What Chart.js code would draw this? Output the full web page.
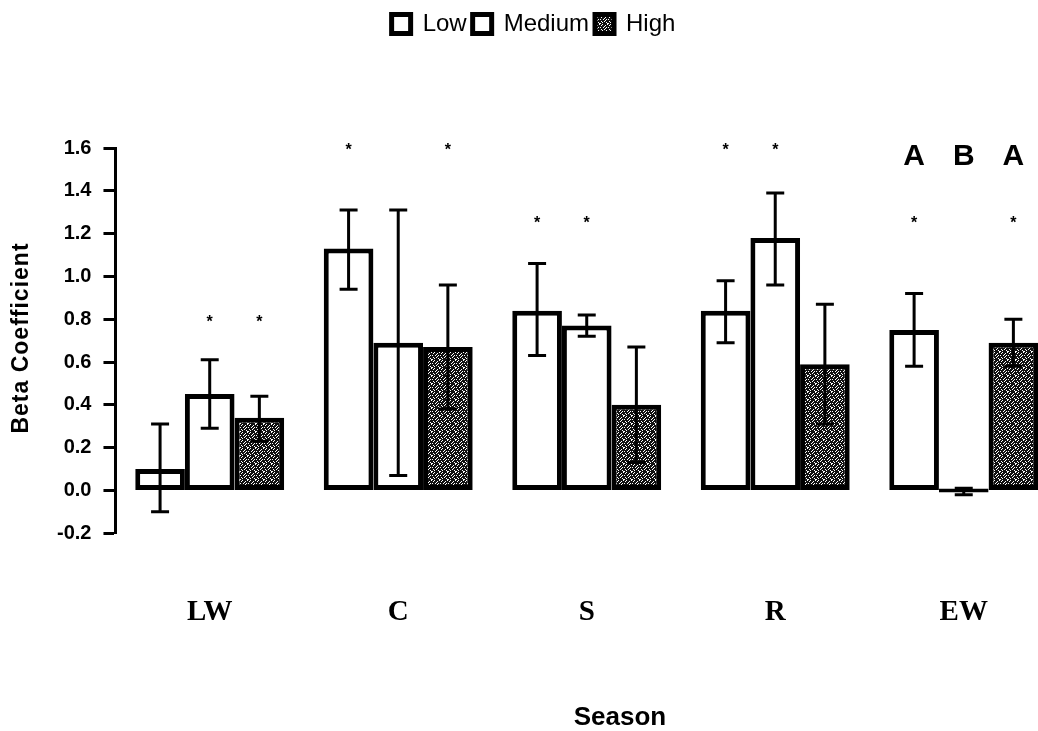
<!DOCTYPE html>
<html>
<head>
<meta charset="utf-8">
<script src="https://cdn.jsdelivr.net/npm/chart.js@4.4.1/dist/chart.umd.min.js"></script>
<style>
  html, body { margin: 0; padding: 0; background: #fff; overflow: hidden; }
  #wrap { width: 1058px; height: 731px; }
</style>
</head>
<body>
<div id="wrap"><canvas id="beta_chart"></canvas></div>
<script>
// data
const seasons = ['LW', 'C', 'S', 'R', 'EW'];
const yTicks = [-0.2, 0.0, 0.2, 0.4, 0.6, 0.8, 1.0, 1.2, 1.4, 1.6];

const lowVals = [0.10, 1.13, 0.84, 0.84, 0.75];
const lowErrLo = [-0.10, 0.94, 0.63, 0.69, 0.58];
const lowErrHi = [0.31, 1.31, 1.06, 0.98, 0.92];

const medVals = [0.45, 0.69, 0.77, 1.18, 0.0];
const medErrLo = [0.29, 0.07, 0.72, 0.96, -0.02];
const medErrHi = [0.61, 1.31, 0.82, 1.39, 0.01];

const highVals = [0.34, 0.67, 0.40, 0.59, 0.69];
const highErrLo = [0.23, 0.38, 0.13, 0.31, 0.58];
const highErrHi = [0.44, 0.96, 0.67, 0.87, 0.80];

// significance stars (y value, or null) per series
const lowStars = [null, 1.6, 1.26, 1.6, 1.26];
const medStars = [0.8, null, 1.26, 1.6, null];
const highStars = [0.8, 1.6, null, null, 1.26];

// letters above EW
const letterSeason = 'EW';
const letters = ['A', 'B', 'A'];
const letterY = 1.56;

// speckled fill for the High bars
function speckle(){
    const rows = [
        '11011110',
        '10111011',
        '11110111',
        '01101101',
        '11111011',
        '10110111',
        '11011101',
        '01111110'
    ];
    const c = document.createElement('canvas');
    c.width = 8; c.height = 8;
    const g = c.getContext('2d');
    g.fillStyle = '#fff';
    g.fillRect(0, 0, 8, 8);
    g.fillStyle = '#111';
    for(let y=0;y<8;y++){
        for(let x=0;x<8;x++){
            if(rows[y][x] == '1') g.fillRect(x, y, 1, 1);
        }
    }
    return g.createPattern(c, 'repeat');
}

const errLo = [lowErrLo, medErrLo, highErrLo];
const errHi = [lowErrHi, medErrHi, highErrHi];
const stars = [lowStars, medStars, highStars];

const errorBars = {
    id: 'errorBars',
    afterDatasetsDraw(chart){
        const ctx = chart.ctx;
        const y = chart.scales.y;
        ctx.save();
        ctx.strokeStyle = '#000';
        ctx.lineWidth = 3;
        chart.data.datasets.forEach((ds, di) => {
            const meta = chart.getDatasetMeta(di);
            meta.data.forEach((bar, i) => {
                const x = bar.x;
                const top = y.getPixelForValue(errHi[di][i]);
                const bot = y.getPixelForValue(errLo[di][i]);
                ctx.beginPath();
                ctx.moveTo(x, top); ctx.lineTo(x, bot);
                ctx.moveTo(x - 9, top); ctx.lineTo(x + 9, top);
                ctx.moveTo(x - 9, bot); ctx.lineTo(x + 9, bot);
                ctx.stroke();
                const s = stars[di][i];
                if(s != null){
                    ctx.fillStyle = '#000';
                    ctx.font = 'bold 16px "Liberation Sans"';
                    ctx.textAlign = 'center';
                    ctx.textBaseline = 'middle';
                    ctx.fillText('*', x, y.getPixelForValue(s) + 3);
                }
            });
        });
        // A B A
        const ci = seasons.indexOf(letterSeason);
        ctx.fillStyle = '#000';
        ctx.font = 'bold 30px "Liberation Sans"';
        ctx.textAlign = 'center';
        ctx.textBaseline = 'middle';
        letters.forEach((t, di) => {
            const bar = chart.getDatasetMeta(di).data[ci];
            ctx.fillText(t, bar.x, y.getPixelForValue(letterY));
        });
        ctx.restore();
    }
};

// axis titles drawn by hand (letter spacing + off-centre placement)
const axisTitles = {
    id: 'axisTitles',
    afterDraw(chart){
        const ctx = chart.ctx;
        ctx.save();
        ctx.fillStyle = '#000';
        ctx.textAlign = 'center';
        ctx.textBaseline = 'middle';
        ctx.font = 'bold 26px "Liberation Sans"';
        ctx.fillText('Season', 620, 718);
        ctx.translate(22, 338);
        ctx.rotate(-Math.PI / 2);
        ctx.letterSpacing = '1px';
        ctx.font = 'bold 23px "Liberation Sans"';
        ctx.fillText('Beta Coefficient', 0, 0);
        ctx.restore();
    }
};

const legendGap = {
    id: 'legendGap',
    beforeInit(chart){
        const fit = chart.legend.fit;
        chart.legend.fit = function(){
            fit.bind(chart.legend)();
            this.height += 102;
        };
    },
    afterLayout(chart){
        // legend sits a bit left of the plot centre in the original
        chart.legend.left -= 18;
        chart.legend.right -= 18;
    }
};

const ctx = document.getElementById('beta_chart').getContext('2d');
const myChart = new Chart(ctx, {
    type: 'bar',
    data: {
        labels: seasons,
        datasets: [{
            label: 'Low',
            data: lowVals,
            backgroundColor: '#fff',
            borderColor: '#000',
            borderWidth: 5,
            borderSkipped: false
        },{
            label: 'Medium',
            data: medVals,
            backgroundColor: '#fff',
            borderColor: '#000',
            borderWidth: 5,
            borderSkipped: false,
            minBarLength: 4
        },{
            label: 'High',
            data: highVals,
            backgroundColor: speckle(),
            borderColor: '#000',
            borderWidth: 5,
            borderSkipped: false
        }]
    },
    options: {
        responsive: true,
        maintainAspectRatio: false,
        animation: false,
        layout: { padding: { top: 6, left: 45, right: 0, bottom: 47 } },
        datasets: {
            bar: { barPercentage: 1.0, categoryPercentage: 0.79 }
        },
        plugins: {
            legend: {
                display: true,
                position: 'top',
                labels: {
                    color: '#000',
                    boxWidth: 19,
                    boxHeight: 19,
                    padding: 6,
                    font: { family: '"Liberation Sans", Arial', size: 24 }
                }
            },
            tooltip: { enabled: false }
        },
        scales: {
            x: {
                grid: { display: false },
                border: { display: false },
                ticks: {
                    color: '#000',
                    padding: 54,
                    font: { family: '"Liberation Serif", "Times New Roman"', size: 29, weight: 'bold' }
                }
            },
            y: {
                min: -0.2,
                max: 1.6,
                afterBuildTicks(axis){
                    axis.ticks = yTicks.map(v => ({ value: v }));
                },
                grid: {
                    drawOnChartArea: false,
                    drawTicks: true,
                    tickLength: 12,
                    tickWidth: 3,
                    tickColor: '#000'
                },
                border: { display: true, color: '#000', width: 3 },
                ticks: {
                    color: '#000',
                    padding: 12,
                    font: { family: '"Liberation Sans", Arial', size: 20, weight: 'bold' },
                    callback: v => v.toFixed(1)
                }
            }
        }
    },
    plugins: [errorBars, axisTitles, legendGap]
});
</script>
</body>
</html>
